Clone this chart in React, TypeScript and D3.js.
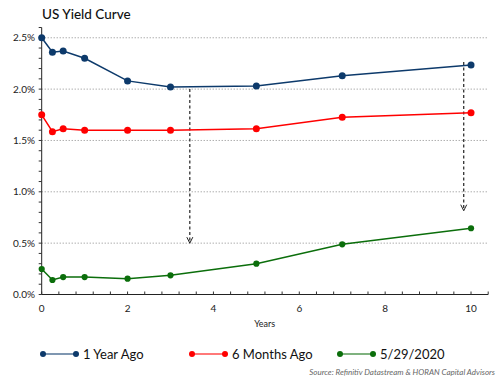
import React from "react";
import * as d3 from "d3";

const maturities = [0, 0.25, 0.5, 1, 2, 3, 5, 7, 10];
const yearAgo = [2.5, 2.36, 2.37, 2.3, 2.08, 2.02, 2.03, 2.13, 2.235];
const sixMonthsAgo = [1.75, 1.585, 1.614, 1.6, 1.6, 1.6, 1.614, 1.725, 1.77];
const current = [0.248, 0.141, 0.17, 0.17, 0.154, 0.187, 0.3, 0.489, 0.645];

const seriesNames = ["1 Year Ago", "6 Months Ago", "5/29/2020"];
const seriesColors = ["#0d3a6b", "#ff0000", "#0b6e0b"];
const xTicks = [0, 2, 4, 6, 8, 10];
const yTicks = [0, 0.5, 1.0, 1.5, 2.0, 2.5];

const arrowX = [3.45, 9.83];
const arrowFrom = [2.0, 2.265];
const arrowTo = [0.5, 0.816];

const W = 501;
const H = 383;
const left = 41.7;
const right = 488.2;
const top = 27.5;
const bottom = 294.5;

export default function App() {
  const x = d3.scaleLinear().domain([0, 10.4]).range([left, right]);
  const y = d3.scaleLinear().domain([0, 2.6]).range([bottom, top]);
  const all = [yearAgo, sixMonthsAgo, current];
  const line = d3
    .line<[number, number]>()
    .x((d) => x(d[0]))
    .y((d) => y(d[1]));
  const xMinor = d3.range(0, 10.41, 0.4);
  const yMinor = d3.range(0, 2.61, 0.1);
  const font = "Lato, 'Open Sans', sans-serif";
  const legendX = [43, 192, 340];
  const radii = [3.5, 3.5, 3.1];
  return (
    <svg
      width={W}
      height={H}
      style={{ position: "absolute", left: 0, top: 0, background: "#fff" }}
      fontFamily={font}
    >
      <text x={42} y={19} fontSize={13.5} fill="#111" fontWeight={500}>
        US Yield Curve
      </text>
      {yTicks
        .filter((t) => t > 0)
        .map((t) => (
          <line
            key={"g" + t}
            x1={left}
            x2={right}
            y1={y(t)}
            y2={y(t)}
            stroke="#8a8a8a"
            strokeWidth={1}
            strokeDasharray="1,2"
          />
        ))}
      <line x1={left} x2={left} y1={top} y2={bottom} stroke="#222" strokeWidth={1} />
      <line x1={left} x2={right} y1={bottom} y2={bottom} stroke="#222" strokeWidth={1} />
      {yMinor.map((t, i) => (
        <line key={"ym" + i} x1={left - 3} x2={left} y1={y(t)} y2={y(t)} stroke="#333" />
      ))}
      {xMinor.map((t, i) => (
        <line key={"xm" + i} x1={x(t)} x2={x(t)} y1={bottom - 3} y2={bottom} stroke="#333" />
      ))}
      {yTicks.map((t) => (
        <text
          key={"yl" + t}
          x={35}
          y={y(t)}
          dy="0.35em"
          textAnchor="end"
          fontSize={10}
          fill="#222"
        >
          {t.toFixed(1) + "%"}
        </text>
      ))}
      {xTicks.map((t) => (
        <text
          key={"xl" + t}
          x={x(t)}
          y={312}
          textAnchor="middle"
          fontSize={10}
          fill="#222"
        >
          {t}
        </text>
      ))}
      <text x={264.7} y={327} textAnchor="middle" fontSize={9} fill="#222">
        Years
      </text>
      {arrowX.map((ax, i) => (
        <g key={"a" + i} stroke="#222" fill="none" strokeWidth={1.2}>
          <line
            x1={x(ax)}
            x2={x(ax)}
            y1={y(arrowFrom[i])}
            y2={y(arrowTo[i])}
            strokeDasharray="3,2.5"
          />
          <path
            d={`M${x(ax) - 3},${y(arrowTo[i]) - 6} L${x(ax)},${y(arrowTo[i])} L${x(ax) + 3},${y(arrowTo[i]) - 6}`}
            strokeWidth={1}
          />
        </g>
      ))}
      {all.map((vals, si) => {
        const pts = maturities.map((m, i) => [m, vals[i]] as [number, number]);
        return (
          <g key={"s" + si}>
            <path d={line(pts) || ""} fill="none" stroke={seriesColors[si]} strokeWidth={1.5} />
            {pts.map((p, i) => (
              <circle key={i} cx={x(p[0])} cy={y(p[1])} r={radii[si]} fill={seriesColors[si]} />
            ))}
          </g>
        );
      })}
      {seriesNames.map((n, i) => (
        <g key={"l" + i}>
          <line
            x1={legendX[i]}
            x2={legendX[i] + 33}
            y1={354}
            y2={354}
            stroke={seriesColors[i]}
            strokeOpacity={0.7}
            strokeWidth={1.6}
          />
          <circle cx={legendX[i]} cy={354} r={3} fill={seriesColors[i]} />
          <circle cx={legendX[i] + 33} cy={354} r={3} fill={seriesColors[i]} />
          <text x={legendX[i] + 40} y={358.5} fontSize={13} fill="#111">
            {n}
          </text>
        </g>
      ))}
      <text
        x={495}
        y={375}
        textAnchor="end"
        fontSize={8}
        fontStyle="italic"
        fill="#666"
      >
        Source: Refinitiv Datastream &amp; HORAN Capital Advisors
      </text>
    </svg>
  );
}
